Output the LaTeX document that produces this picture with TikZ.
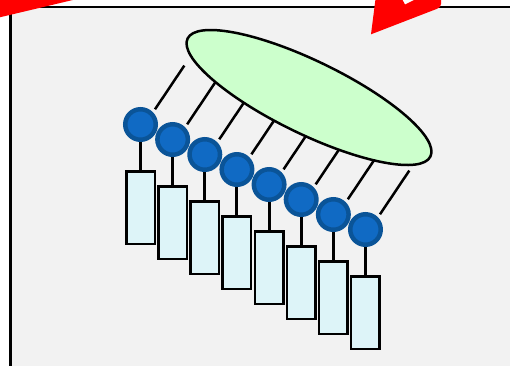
\documentclass[tikz,border=0pt]{standalone}
\usetikzlibrary{shapes.geometric,calc}
\definecolor{panelgray}{RGB}{242,242,242}
\definecolor{headfill}{RGB}{16,106,196}
\definecolor{headring}{RGB}{10,84,152}
\definecolor{bodyfill}{RGB}{221,244,248}
\definecolor{corefill}{RGB}{204,255,204}
\begin{document}
\begin{tikzpicture}[x=1pt,y=-1pt,
  head/.style={circle,draw=headring,fill=headfill,line width=4.5pt,minimum size=30.5pt,inner sep=0pt},
  body/.style={rectangle,draw=black,fill=bodyfill,line width=2.5pt,minimum width=28.5pt,minimum height=72.5pt,inner sep=0pt},
  core/.style={ellipse,draw=black,fill=corefill,line width=2.5pt,minimum width=270pt,minimum height=73pt,inner sep=0pt,rotate=-25.9},
  stem/.style={line width=3pt},
  tail/.style={line width=2.5pt},
  marker/.style={fill=red}]
\useasboundingbox (0,0) rectangle (510,365);
% background panel
\draw[fill=panelgray,line width=2.5pt] (10.7,6.9) rectangle (530,390);
% red highlight marks at the top edge
\fill[marker] (-1,-1) -- (77,-1) -- (-1,17.5) -- cycle;
\fill[marker] (371,34.3) -- (375.5,-1) -- (402,-1) -- (405,4.5) -- (416,-1) -- (441,-1)
  -- (441,4) .. controls (441,6.5) and (439.5,7.8) .. (437,8.8) -- cycle;
% heads, bodies and tails
\foreach \i in {0,...,7}{
  \node[head] (h\i) at (140.5+32.14*\i,124.5+15*\i) {};
  \node[body] (b\i) at (140.5+32.14*\i,207.5+15*\i) {};
  \coordinate (t\i) at ($(h\i.center)+(14.5,-15.2)$);
  \coordinate (u\i) at ($(t\i)+(29.3,-43.7)$);
  \draw[tail] (t\i) -- (u\i);
  \draw[stem] (h\i.south) -- (b\i.north);
}
% central core
\node[core] (c) at (309,97.5) {};
\end{tikzpicture}
\end{document}
